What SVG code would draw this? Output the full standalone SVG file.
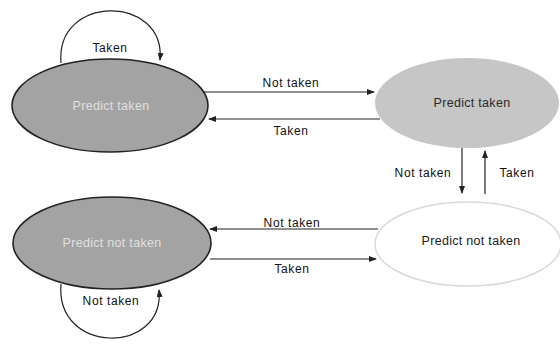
<svg xmlns="http://www.w3.org/2000/svg" width="560" height="344" viewBox="0 0 560 344">
<defs>
<marker id="arr" markerWidth="8" markerHeight="6" refX="7" refY="3" orient="auto" markerUnits="userSpaceOnUse">
<path d="M0,0 L8,3 L0,6 Z" fill="#222"/>
</marker>
<style>
.lbl{font-family:"Liberation Sans",Arial,sans-serif;font-size:12px;letter-spacing:0.6px;fill:#111;text-anchor:middle}
.nlbl{font-family:"Liberation Sans",Arial,sans-serif;font-size:12.5px;letter-spacing:0.3px;text-anchor:middle}
.edge{fill:none;stroke:#222;stroke-width:1.2}
.dark{fill:#a3a3a3;stroke:#222;stroke-width:1.6}
</style>
</defs>
<rect width="560" height="344" fill="#fff"/>
<g id="pt1">
<ellipse class="dark" cx="110" cy="105.5" rx="98" ry="46.5"/>
<text class="nlbl" x="111" y="110" fill="#e0e0e0">Predict taken</text>
</g>
<g id="pt2">
<ellipse cx="467" cy="103" rx="92" ry="45" fill="#c6c6c6"/>
<text class="nlbl" x="472" y="107" fill="#2a2a2a">Predict taken</text>
</g>
<g id="pnt1">
<ellipse class="dark" cx="112" cy="243" rx="99" ry="46"/>
<text class="nlbl" x="112" y="247" fill="#e0e0e0">Predict not taken</text>
</g>
<g id="pnt2">
<ellipse cx="468" cy="244" rx="93" ry="42" fill="#fff" stroke="#dadada" stroke-width="1.5"/>
<text class="nlbl" x="471" y="245" fill="#1a1a1a">Predict not taken</text>
</g>
<g id="edges">
<path class="edge" d="M61,63 C55,-6 166,-6 160,60" marker-end="url(#arr)"/>
<text class="lbl" x="110" y="52">Taken</text>
<line class="edge" x1="204" y1="92" x2="374" y2="92" marker-end="url(#arr)"/>
<text class="lbl" x="291" y="87">Not taken</text>
<line class="edge" x1="380" y1="119" x2="209" y2="119" marker-end="url(#arr)"/>
<text class="lbl" x="291" y="135">Taken</text>
<line class="edge" x1="462" y1="148" x2="462" y2="193" marker-end="url(#arr)"/>
<text class="lbl" x="423" y="177">Not taken</text>
<line class="edge" x1="485" y1="194" x2="485" y2="151" marker-end="url(#arr)"/>
<text class="lbl" x="517" y="177">Taken</text>
<line class="edge" x1="378" y1="229" x2="210" y2="229" marker-end="url(#arr)"/>
<text class="lbl" x="292" y="227">Not taken</text>
<line class="edge" x1="210" y1="259" x2="376" y2="259" marker-end="url(#arr)"/>
<text class="lbl" x="292" y="273">Taken</text>
<path class="edge" d="M61,284 C55,355 165,355 159,290" marker-end="url(#arr)"/>
<text class="lbl" x="111" y="305">Not taken</text>
</g>
</svg>
